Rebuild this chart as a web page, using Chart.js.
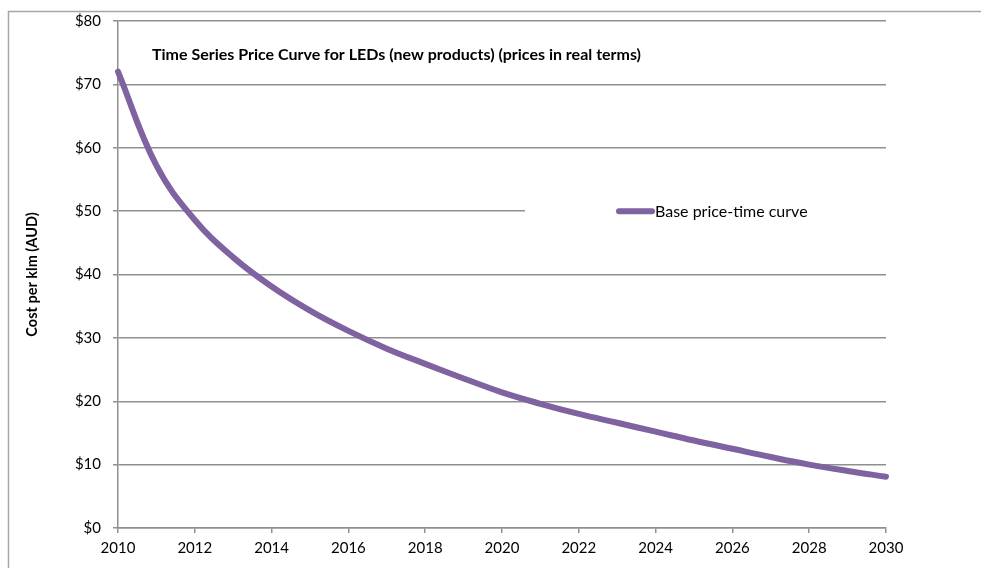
<!DOCTYPE html>
<html>
<head>
<meta charset="utf-8">
<style>
  html, body { margin: 0; padding: 0; background: #ffffff; }
  canvas { display: block; }
</style>
<script src="https://cdn.jsdelivr.net/npm/chart.js@4/dist/chart.umd.min.js"></script>
</head>
<body>
<canvas id="c" width="981" height="568"></canvas>
<script>
// Years on the horizontal axis
const years = [2010, 2011, 2012, 2013, 2014, 2015, 2016, 2017, 2018, 2019, 2020,
               2021, 2022, 2023, 2024, 2025, 2026, 2027, 2028, 2029, 2030];
// Base price-time curve, cost per klm (AUD, real terms)
const basePrice = [72, 57.2, 48.6, 42.7, 38.1, 34.3, 31.1, 28.3, 25.9, 23.6, 21.4,
                   19.6, 18.0, 16.6, 15.2, 13.8, 12.5, 11.2, 10.0, 9.0, 8.1];
const seriesName = 'Base price-time curve';
const chartTitle = 'Time Series Price Curve for LEDs (new products) (prices in real terms)';
const yAxisTitle = 'Cost per klm (AUD)';
const yTicks = [0, 10, 20, 30, 40, 50, 60, 70, 80];
const xTicks = [2010, 2012, 2014, 2016, 2018, 2020, 2022, 2024, 2026, 2028, 2030];

const FONT = 'Lato, "Open Sans", sans-serif';
const GRID = '#8f8f8f';
const LINE = '#7f63a1';

// Outer frame, in-plot title and the boxed legend
const decorations = {
  id: 'decorations',
  beforeDraw(chart) {
    const ctx = chart.ctx;
    ctx.save();
    ctx.strokeStyle = '#a6a6a6';
    ctx.lineWidth = 1.5;
    ctx.beginPath();
    ctx.moveTo(8.5, 600);
    ctx.lineTo(8.5, 11.5);
    ctx.lineTo(1000, 11.5);
    ctx.stroke();
    ctx.restore();
  },
  beforeDatasetsDraw(chart) {
    const ctx = chart.ctx;
    const area = chart.chartArea;
    const y = chart.scales.y;
    const x = chart.scales.x;
    ctx.save();
    // legend box (white background hides the grid line behind it)
    const ly = y.getPixelForValue(50);
    const boxLeft = x.getPixelForValue(2020.6);
    ctx.fillStyle = '#ffffff';
    ctx.fillRect(boxLeft, ly - 10, area.right - boxLeft + 2, 20);
    ctx.strokeStyle = LINE;
    ctx.lineWidth = 6;
    ctx.lineCap = 'round';
    ctx.beginPath();
    ctx.moveTo(619, ly);
    ctx.lineTo(652, ly);
    ctx.stroke();
    ctx.fillStyle = '#000000';
    ctx.font = '16px ' + FONT;
    ctx.textAlign = 'left';
    ctx.textBaseline = 'middle';
    ctx.fillText(chart.data.datasets[0].label, 655, ly + 1);
    // chart title inside the plot area
    ctx.font = 'bold 16px ' + FONT;
    ctx.fillText(chartTitle, 152, 55);
    ctx.restore();
  }
};

new Chart(document.getElementById('c'), {
  type: 'line',
  data: {
    datasets: [{
      label: seriesName,
      data: years.map((yr, i) => ({ x: yr, y: basePrice[i] })),
      borderColor: LINE,
      backgroundColor: LINE,
      borderWidth: 6,
      borderCapStyle: 'round',
      borderJoinStyle: 'round',
      pointRadius: 0,
      tension: 0.4,
      clip: false,
      fill: false
    }]
  },
  options: {
    responsive: false,
    animation: false,
    events: [],
    layout: { padding: { left: 8, top: 21, right: 95, bottom: 0 } },
    plugins: {
      legend: { display: false },
      title: { display: false },
      tooltip: { enabled: false }
    },
    scales: {
      x: {
        type: 'linear',
        min: 2010,
        max: 2030,
        afterFit(s) { s.height = 40; },
        afterBuildTicks(s) { s.ticks = xTicks.map(v => ({ value: v })); },
        ticks: {
          callback: v => String(v),
          color: '#000000',
          font: { family: FONT, size: 15 },
          padding: 6,
          maxRotation: 0
        },
        grid: {
          drawOnChartArea: false,
          drawTicks: true,
          tickLength: 5,
          color: GRID,
          lineWidth: 1.5
        },
        border: { color: GRID, width: 1.5 }
      },
      y: {
        type: 'linear',
        min: 0,
        max: 80,
        afterFit(s) { s.width = 110; },
        afterBuildTicks(s) { s.ticks = yTicks.map(v => ({ value: v })); },
        ticks: {
          callback: v => '$' + v,
          color: '#000000',
          font: { family: FONT, size: 15 },
          padding: 12
        },
        grid: {
          drawOnChartArea: true,
          drawTicks: true,
          tickLength: 5,
          color: GRID,
          lineWidth: 1.5
        },
        border: { color: GRID, width: 1.5 },
        title: {
          display: true,
          text: yAxisTitle,
          color: '#000000',
          font: { family: FONT, size: 14.5, weight: 'bold' },
          padding: { top: 16, bottom: 0 }
        }
      }
    }
  },
  plugins: [decorations]
});
</script>
</body>
</html>
